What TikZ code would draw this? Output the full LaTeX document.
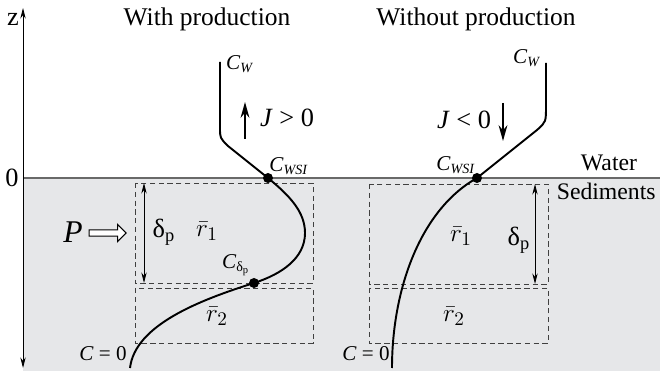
\documentclass[tikz,border=0pt]{standalone}
\usepackage{fontspec}
\setmainfont{Liberation Serif}
\usetikzlibrary{arrows.meta,shapes.arrows}
\definecolor{sedgray}{RGB}{230,231,233}
\definecolor{linegray}{RGB}{105,105,105}

\begin{document}
\begin{tikzpicture}[x=0.02cm, y=-0.02cm,
    profile/.style={line width=1.1pt},
    layer/.style={draw=black!75, dash pattern=on 3pt off 2pt, line width=0.5pt},
    dot/.style={circle, fill=black, inner sep=0pt, minimum size=0.2cm},
    flux/.style={-{Stealth[length=9pt,width=5pt]}, line width=1.2pt},
    depth/.style={{Stealth[length=6pt,width=3pt]}-{Stealth[length=6pt,width=3pt]}, line width=0.5pt},
    lbl/.style={font=\fontsize{12}{14}\selectfont, inner sep=0pt},
    big/.style={font=\fontsize{15}{17}\selectfont, inner sep=0pt},
    place/.style={font=\fontsize{13.5}{16}\selectfont, inner sep=0pt}]
    \useasboundingbox (0,0) rectangle (660,371);

    % sediments and water surface
    \fill[sedgray] (23,178) rectangle (660,371);
    \draw[linegray, line width=0.8pt] (23,178) -- (660,178);
    \coordinate (ztop) at (23,8);
    \coordinate (zbot) at (23,368);
    \draw[depth] (zbot) -- (ztop);
    \node[big] (zlbl) at (13,19) {z};
    \node[big] (zero) at (12,178) {0};
    \node[place] (water) at (609,163) {Water};
    \node[place, anchor=east] (sed) at (656,191) {Sediments};

    \node[font=\fontsize{14.5}{17}\selectfont] (withp) at (207,19) {With production};
    \node[font=\fontsize{14.5}{17}\selectfont] (withoutp) at (476,19) {Without production};

    % layers, left
    \draw[layer] (135,183) rectangle (313,283);
    \draw[layer] (135,288) rectangle (313,343);
    \coordinate (dtopL) at (144,183);
    \coordinate (dbotL) at (144,283);
    \draw[depth] (dtopL) -- (dbotL);
    \node[big] (deltaL) at (164,232) {δ\textsubscript{p}};
    \node[big] (r1L) at (207,231) {$\bar{r}_1$};
    \node[big] (r2L) at (217,316) {$\bar{r}_2$};
    \node[font=\fontsize{18}{20}\selectfont\itshape, inner sep=0pt] (prod) at (73,232) {P};
    \node[single arrow, draw, line width=0.6pt, fill=white, minimum height=0.74cm,
          minimum width=0.34cm, single arrow head extend=0.08cm, inner sep=1pt] (parrow) at (106,233) {};

    % profile with production
    \coordinate (cwL) at (220,62);
    \node[dot] (wsiL) at (268,178) {};
    \node[dot] (cdp) at (254,283) {};
    \coordinate (c0L) at (130,368);
    \draw[profile] (cwL) -- (220,128) .. controls (220,138) .. (228,146) -- (wsiL.center)
        .. controls (290,196) and (305,212) .. (305,233)
        .. controls (305,258) and (282,274) .. (cdp.center)
        .. controls (200,300) and (135,325) .. (c0L);
    \node[lbl] (cwLl) at (240,64) {\textit{C}\textsubscript{\textit{W}}};
    \node[lbl] (wsiLl) at (289,166) {\textit{C}\textsubscript{\textit{WSI}}};
    \node[lbl] (cdpl) at (236,265) {\textit{C}\textsubscript{δ\textsubscript{p}}};
    \node[lbl] (c0Ll) at (103,354) {\textit{C} = 0};
    \coordinate (jLa) at (245,139);
    \coordinate (jLb) at (245,102);
    \draw[flux] (jLa) -- (jLb);
    \node[big] (jL) at (287,118) {\textit{J} > 0};

    % layers, right
    \draw[layer] (369,184) rectangle (548,284);
    \draw[layer] (369,288) rectangle (548,343);
    \coordinate (dtopR) at (535,184);
    \coordinate (dbotR) at (535,284);
    \draw[depth] (dtopR) -- (dbotR);
    \node[big] (deltaR) at (519,240) {δ\textsubscript{p}};
    \node[big] (r1R) at (461,236) {$\bar{r}_1$};
    \node[big] (r2R) at (454,316) {$\bar{r}_2$};

    % profile without production
    \coordinate (cwR) at (546,63);
    \node[dot] (wsiR) at (477,178) {};
    \coordinate (c0R) at (392,368);
    \draw[profile] (cwR) -- (546,106) .. controls (546,122) .. (537,130) -- (wsiR.center)
        .. controls (420,210) and (392,290) .. (c0R);
    \node[lbl] (cwRl) at (527,58) {\textit{C}\textsubscript{\textit{W}}};
    \node[lbl] (wsiRl) at (456,165) {\textit{C}\textsubscript{\textit{WSI}}};
    \node[lbl] (c0Rl) at (366,354) {\textit{C} = 0};
    \coordinate (jRa) at (503,103);
    \coordinate (jRb) at (503,141);
    \draw[flux] (jRa) -- (jRb);
    \node[big] (jR) at (464,120) {\textit{J} < 0};
\end{tikzpicture}
\end{document}
